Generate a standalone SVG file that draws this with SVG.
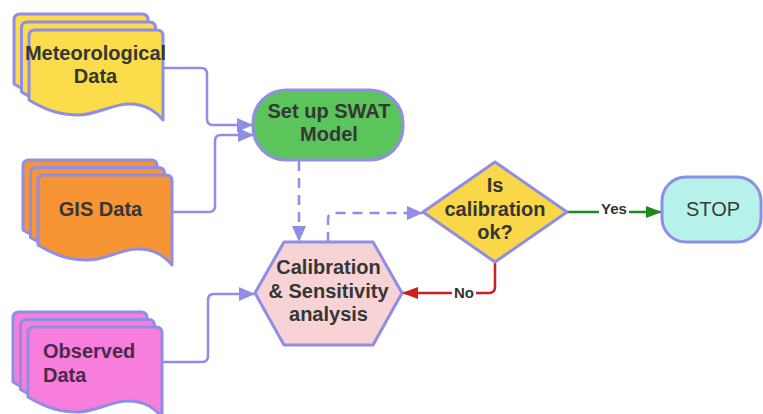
<svg xmlns="http://www.w3.org/2000/svg" width="763" height="414" viewBox="0 0 763 414">
<style>
.sh{stroke:#8f8de6;stroke-width:3;stroke-linejoin:round}
.met{fill:#fbdc4a}
.gis{fill:#f79433}
.obs{fill:#f77edc}
.t{font-family:"Liberation Sans",Arial,sans-serif;font-weight:bold;font-size:20px;fill:#363636;text-anchor:middle}
.lbl{font-family:"Liberation Sans",Arial,sans-serif;font-weight:bold;font-size:15px;fill:#333;text-anchor:middle}
.c{fill:none;stroke:#8f8de6;stroke-width:2.5}
.d{stroke-dasharray:10 7}
</style>
<defs>
<path id="doc" d="M0,6 Q0,0 6,0 H128 Q134,0 134,6 V90 C127,82 118,74 100,74 C83,74 67,85 50,85 C34,85 20,82 0,70 Z"/>
<marker id="aL" markerUnits="userSpaceOnUse" markerWidth="17" markerHeight="14" refX="16" refY="7" orient="auto"><path d="M0,0 L16,7 L0,14 z" fill="#8f8de6"/></marker>
<marker id="aG" markerUnits="userSpaceOnUse" markerWidth="17" markerHeight="14" refX="16" refY="7" orient="auto"><path d="M0,1 L16,7 L0,13 z" fill="#1c8a1c"/></marker>
<marker id="aR" markerUnits="userSpaceOnUse" markerWidth="17" markerHeight="14" refX="16" refY="7" orient="auto"><path d="M0,1 L16,7 L0,13 z" fill="#cc1f1f"/></marker>
</defs>
<rect width="763" height="414" fill="#ffffff"/>
<g id="connectors">
<path class="c" d="M162,68 H201 Q207,68 207,74 V119 Q207,125 213,125 H253" marker-end="url(#aL)"/>
<path class="c" d="M173,212 H209 Q215,212 215,206 V141 Q215,135 221,135 H254" marker-end="url(#aL)"/>
<path class="c" d="M163,362 H202 Q208,362 208,356 V300 Q208,294 214,294 H255" marker-end="url(#aL)"/>
<path class="c d" d="M299,161 V242" marker-end="url(#aL)"/>
<path class="c d" d="M328,242 V219 Q328,213 334,213 H423" marker-end="url(#aL)"/>
<path fill="none" stroke="#1c8a1c" stroke-width="2.5" d="M567,212 H662" marker-end="url(#aG)"/>
<rect x="599" y="203" width="30" height="16" fill="#ffffff"/>
<text class="lbl" x="614" y="214">Yes</text>
<path fill="none" stroke="#cc1f1f" stroke-width="2.5" d="M495,262 V287 Q495,293 489,293 H402" marker-end="url(#aR)"/>
<rect x="452" y="285" width="24" height="16" fill="#ffffff"/>
<text class="lbl" x="464" y="298">No</text>
</g>
<g id="meteorological">
<use href="#doc" class="sh met" transform="translate(14,14)"/>
<use href="#doc" class="sh met" transform="translate(21.5,22)"/>
<use href="#doc" class="sh met" transform="translate(29,30)"/>
<text class="t" x="95.5" y="60">Meteorological</text>
<text class="t" x="95.5" y="83">Data</text>
</g>
<g id="gis">
<use href="#doc" class="sh gis" transform="translate(23,160)"/>
<use href="#doc" class="sh gis" transform="translate(30.5,167.5)"/>
<use href="#doc" class="sh gis" transform="translate(38,175)"/>
<text class="t" x="100.5" y="216">GIS Data</text>
</g>
<g id="observed">
<use href="#doc" class="sh obs" transform="translate(13,312)"/>
<use href="#doc" class="sh obs" transform="translate(20.5,319.5)"/>
<use href="#doc" class="sh obs" transform="translate(28,327)"/>
<text class="t" x="43" y="358" style="text-anchor:start;fill:#4a2a48">Observed</text>
<text class="t" x="43" y="382" style="text-anchor:start;fill:#4a2a48">Data</text>
</g>
<g id="setup">
<rect class="sh" x="253" y="90" width="150" height="70" rx="33" fill="#5bc45a"/>
<text class="t" x="329" y="118">Set up SWAT</text>
<text class="t" x="329" y="141">Model</text>
</g>
<g id="calibration">
<polygon class="sh" points="255,293 284,242 373,242 402,293 373,345 284,345" fill="#f8d3d5"/>
<text class="t" x="328.5" y="274">Calibration</text>
<text class="t" x="328.5" y="298">&amp; Sensitivity</text>
<text class="t" x="328.5" y="321">analysis</text>
</g>
<g id="decision">
<polygon class="sh" points="423,212 495,162 567,212 495,262" fill="#f9d748"/>
<text class="t" x="495" y="192">Is</text>
<text class="t" x="495" y="216">calibration</text>
<text class="t" x="495" y="239">ok?</text>
</g>
<g id="stop">
<rect class="sh" x="662" y="177" width="99" height="65" rx="24" fill="#b6f2ea"/>
<text class="t" x="713" y="216" style="font-weight:normal;fill:#3a3a3a">STOP</text>
</g>
</svg>
